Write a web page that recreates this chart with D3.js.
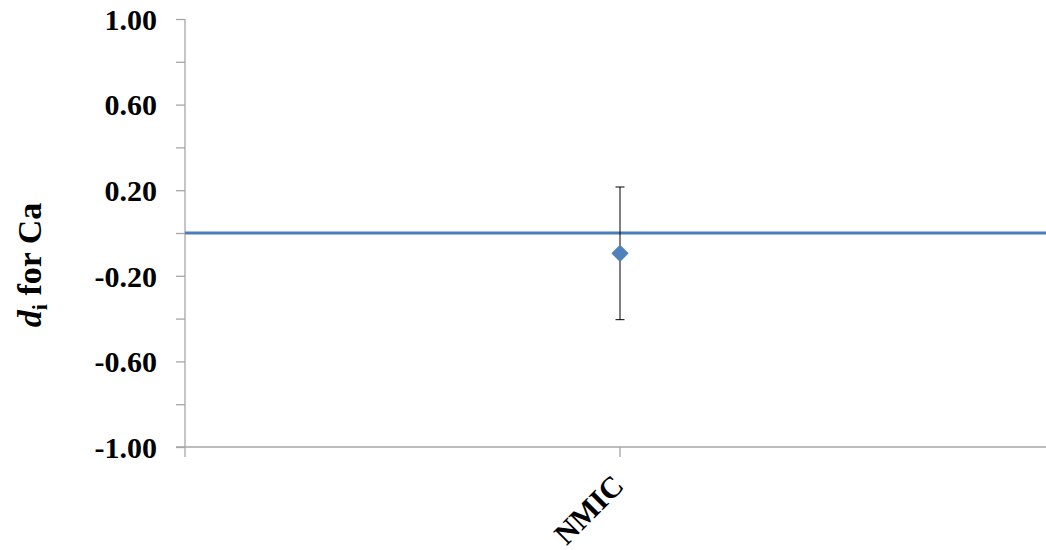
<!DOCTYPE html>
<html><head><meta charset="utf-8">
<script src="https://cdn.jsdelivr.net/npm/d3@7"></script>
<style>body{margin:0;background:#fff}svg{display:block}text{font-family:"Liberation Serif","Times New Roman",serif;font-weight:bold}</style>
</head><body><svg id="c" width="1046" height="550"></svg>
<script>
const categories = ["NMIC"];
const values = [-0.095];
const errors = [0.31];
const referenceValue = [0];
const yTicks = [-1.0, -0.8, -0.6, -0.4, -0.2, 0, 0.2, 0.4, 0.6, 0.8, 1.0];
const yLabelTicks = [-1.0, -0.6, -0.2, 0.2, 0.6, 1.0];

(function () {
const svg = d3.select("#c");
const mLeft = 185, mRight = 1055, mTop = 19, mBottom = 447;
const y = d3.scaleLinear().domain([-1, 1]).range([mBottom, mTop]);
const x = d3.scaleBand().domain(categories).range([mLeft, mRight]);

// y axis
const fmt = d => d.toFixed(2);
const yAxis = d3.axisLeft(y).tickValues(yTicks).tickSize(9).tickFormat(d => yLabelTicks.some(v => Math.abs(v - d) < 1e-9) ? fmt(d) : "").tickPadding(19);
const gy = svg.append("g").attr("transform", `translate(${mLeft},0)`).call(yAxis);
gy.select(".domain").attr("stroke", "#a6a6a6").attr("stroke-width", 1.3).attr("d", `M0,${mTop}V${mBottom + 10}`);
gy.selectAll(".tick line").attr("stroke", "#a6a6a6").attr("stroke-width", 1.3);
gy.selectAll(".tick text").attr("font-size", 30).attr("font-family", "Liberation Serif").attr("font-weight", "bold").attr("fill", "#000").attr("dy", "0.34em");

// x axis
const gx = svg.append("g").attr("transform", `translate(0,${mBottom})`);
gx.append("line").attr("x1", mLeft - 9).attr("x2", 1046).attr("y1", 0).attr("y2", 0).attr("stroke", "#a6a6a6").attr("stroke-width", 1.3);
categories.forEach(c => {
  const cx = x(c) + x.bandwidth() / 2;
  gx.append("line").attr("x1", cx).attr("x2", cx).attr("y1", 0).attr("y2", 10).attr("stroke", "#a6a6a6").attr("stroke-width", 1.3);
  gx.append("text").attr("transform", `translate(${cx - 2},${33}) rotate(-45)`).attr("text-anchor", "end").attr("font-size", 30).attr("fill", "#000").attr("dy", "0.35em").text(c);
});

// reference line
svg.append("line").attr("x1", mLeft).attr("x2", 1046).attr("y1", y(referenceValue[0])).attr("y2", y(referenceValue[0])).attr("stroke", "#4a7ebb").attr("stroke-width", 3);

// error bars and points
categories.forEach((c, i) => {
  const cx = x(c) + x.bandwidth() / 2;
  const g = svg.append("g");
  g.append("line").attr("x1", cx).attr("x2", cx).attr("y1", y(values[i] + errors[i])).attr("y2", y(values[i] - errors[i])).attr("stroke", "#000").attr("stroke-width", 1);
  [values[i] + errors[i], values[i] - errors[i]].forEach(v => {
    g.append("line").attr("x1", cx - 4.5).attr("x2", cx + 4.5).attr("y1", y(v)).attr("y2", y(v)).attr("stroke", "#000").attr("stroke-width", 1);
  });
  g.append("path").attr("d", d3.symbol().type(d3.symbolDiamond2).size(190)()).attr("transform", `translate(${cx},${y(values[i])})`).attr("fill", "#4f81bd");
});

// y title
const t = svg.append("text").attr("transform", `translate(41,265) rotate(-90)`).attr("text-anchor", "middle").attr("font-size", 34).attr("fill", "#000");
t.append("tspan").attr("font-style", "italic").text("d");
t.append("tspan").attr("font-size", 22).attr("dy", 6).text("i");
t.append("tspan").attr("dy", -6).text(" for Ca");
})();
</script></body></html>
